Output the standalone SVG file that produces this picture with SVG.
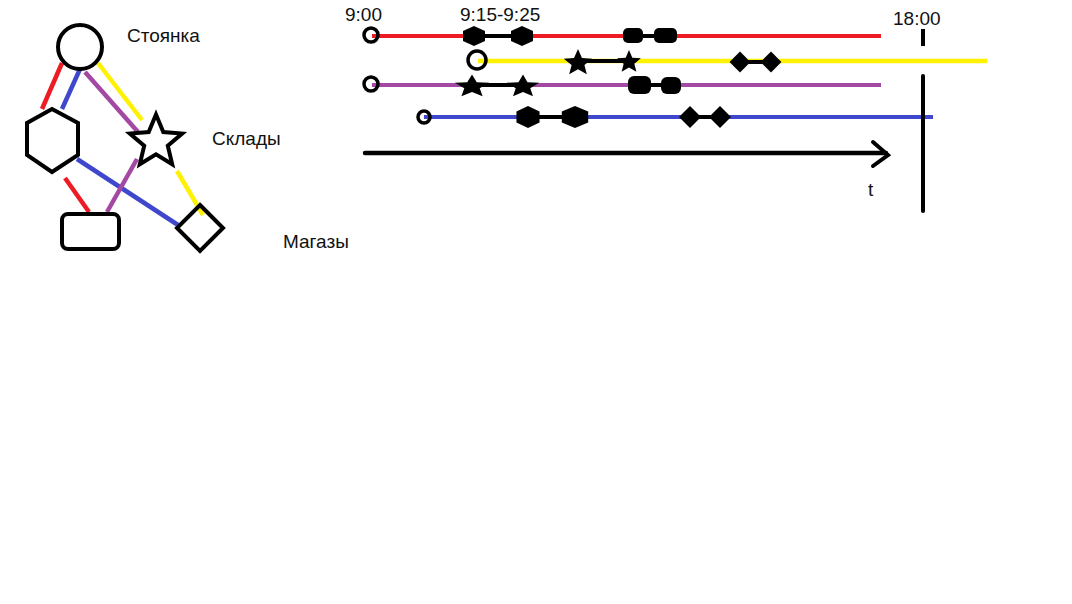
<svg xmlns="http://www.w3.org/2000/svg" width="1072" height="604" viewBox="0 0 1072 604">
<style>
.t{font-family:"Liberation Sans",Arial,sans-serif;font-size:19px;fill:#111}
.o{fill:none;stroke:#000;stroke-width:4;stroke-linejoin:miter}
.f{fill:#000;stroke:none}
.red{stroke:#ed1c24}.blu{stroke:#3f48cc}.pur{stroke:#a349a4}.yel{stroke:#fff200}
.c line{stroke-width:4.5}
.k{stroke:#000;stroke-width:4}
</style>
<defs>
<path id="star" d="M0,-1 L0.265,-0.364 L0.951,-0.309 L0.428,0.139 L0.588,0.809 L0,0.45 L-0.588,0.809 L-0.428,0.139 L-0.951,-0.309 L-0.265,-0.364Z"/>
<path id="hex" d="M0,-10 L11,-5 L11,5 L0,10 L-11,5 L-11,-5Z"/>
<path id="dia" d="M0,-11 L11,0 L0,11 L-11,0Z"/>
</defs>
<rect width="1072" height="604" fill="#fff"/>
<g id="connectors" class="c">
<line class="red" x1="62" y1="63" x2="42" y2="109"/>
<line class="red" x1="65" y1="178" x2="89" y2="212"/>
<line class="blu" x1="80" y1="69" x2="62" y2="109"/>
<line class="blu" x1="77" y1="159" x2="178" y2="225"/>
<line class="pur" x1="85" y1="72" x2="138" y2="132"/>
<line class="pur" x1="137" y1="159" x2="107" y2="212"/>
<line class="yel" x1="98" y1="63" x2="142" y2="120"/>
<line class="yel" x1="177" y1="171" x2="203" y2="215"/>
</g>
<g id="stoyanka"><circle class="o" cx="80" cy="47" r="22"/><text class="t" x="127" y="42">Стоянка</text></g>
<g id="hexnode"><path class="o" d="M52,109 L78,123 L78,155 L52,172 L27,155 L27,123Z"/></g>
<g id="sklady"><path class="o" d="M156,114.5 L163.3,132 L182.2,133.5 L167.8,145.8 L172.2,164.2 L156,154.4 L139.8,164.2 L144.2,145.8 L129.8,133.5 L148.7,132Z"/><text class="t" x="212" y="145">Склады</text></g>
<g id="rectnode"><rect class="o" x="62" y="214" width="57" height="35" rx="6"/></g>
<g id="magazy"><path class="o" d="M200,205 L223,228 L200,251 L177,228Z"/><text class="t" x="283" y="248">Магазы</text></g>
<g id="timeline">
<text class="t" x="345" y="21">9:00</text>
<text class="t" x="460" y="21">9:15-9:25</text>
<text class="t" x="893" y="25">18:00</text>
<text class="t" x="868" y="196">t</text>
<line class="red" x1="372" y1="36" x2="881" y2="36" stroke-width="4"/>
<line class="yel" x1="478" y1="61" x2="987" y2="61" stroke-width="4.5"/>
<line class="pur" x1="372" y1="85" x2="881" y2="85" stroke-width="4"/>
<line class="blu" x1="424" y1="117" x2="933" y2="117" stroke-width="4"/>
<circle cx="371" cy="35" r="7" fill="none" stroke="#000" stroke-width="3.5"/>
<circle cx="477" cy="60" r="9" fill="none" stroke="#000" stroke-width="3.5"/>
<circle cx="371" cy="84" r="7" fill="none" stroke="#000" stroke-width="3.5"/>
<circle cx="424" cy="117" r="6" fill="none" stroke="#000" stroke-width="3.5"/>
<line class="k" x1="474" y1="36" x2="522" y2="36"/>
<use href="#hex" class="f" transform="translate(474,36)"/>
<use href="#hex" class="f" transform="translate(522,36)"/>
<line class="k" x1="633" y1="36" x2="665" y2="36"/>
<rect class="f" x="623" y="28" width="20" height="15" rx="5"/>
<rect class="f" x="654" y="28" width="23" height="15" rx="5"/>
<line class="k" x1="577" y1="61" x2="629" y2="61"/>
<use href="#star" class="f" transform="translate(578,63) scale(15,14)"/>
<use href="#star" class="f" transform="translate(629,62) scale(12.5,12)"/>
<line class="k" x1="740" y1="62" x2="771" y2="62"/>
<use href="#dia" class="f" transform="translate(740,62) scale(0.95)"/>
<use href="#dia" class="f" transform="translate(771,62) scale(0.95)"/>
<line class="k" x1="472" y1="85" x2="523" y2="85"/>
<use href="#star" class="f" transform="translate(472,86.5) scale(18,12)"/>
<use href="#star" class="f" transform="translate(523,86.5) scale(17,12)"/>
<line class="k" x1="640" y1="85" x2="670" y2="85"/>
<rect class="f" x="628" y="76" width="23" height="18" rx="6"/>
<rect class="f" x="661" y="77" width="20" height="17" rx="6"/>
<line class="k" x1="528" y1="117" x2="575" y2="117"/>
<use href="#hex" class="f" transform="translate(528,117) scale(1.05,1.1)"/>
<use href="#hex" class="f" transform="translate(575,117) scale(1.2,1.1)"/>
<line class="k" x1="690" y1="117" x2="720" y2="117"/>
<use href="#dia" class="f" transform="translate(690,117)"/>
<use href="#dia" class="f" transform="translate(720,117)"/>
<line x1="365" y1="153" x2="886" y2="153" stroke="#000" stroke-width="4.5" stroke-linecap="round"/>
<polyline points="873,142 888,155 873,166" fill="none" stroke="#000" stroke-width="4" stroke-linecap="round"/>
<line x1="923" y1="29" x2="923" y2="46" stroke="#000" stroke-width="4"/>
<line x1="923" y1="76" x2="923" y2="211" stroke="#000" stroke-width="4" stroke-linecap="round"/>
</g>
</svg>
